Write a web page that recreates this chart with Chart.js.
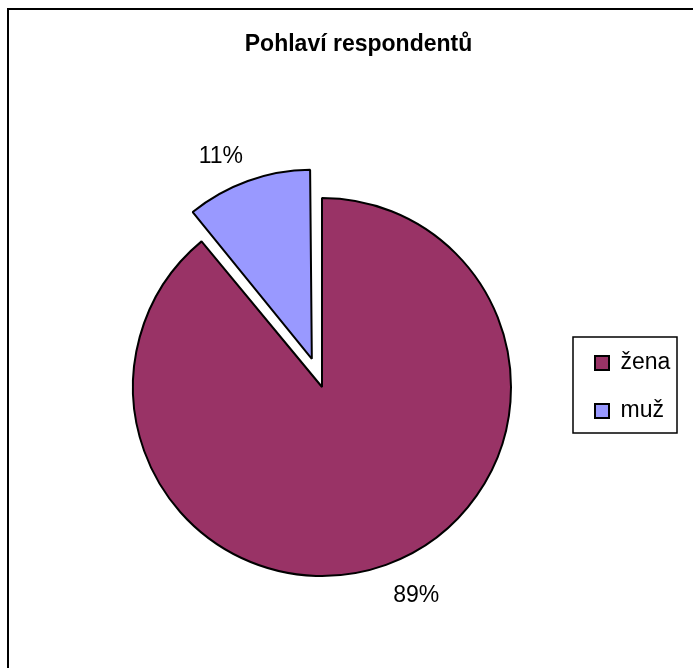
<!DOCTYPE html>
<html>
<head>
<meta charset="utf-8">
<title>Pohlaví respondentů</title>
<script src="https://cdn.jsdelivr.net/npm/chart.js@4.4.1/dist/chart.umd.min.js"></script>
<style>
  html, body { margin: 0; padding: 0; background: #fff; }
  canvas { display: block; }
</style>
</head>
<body>
<canvas id="genderChart" width="693" height="668"></canvas>
<script>
// data
const categories = ['žena', 'muž'];
const shares = [89, 11];
const sliceColors = ['#993366', '#9999FF'];

const PIE_RADIUS = 189;
const FONT = "'Liberation Sans', Arial, sans-serif";

// white page + the frame around the whole chart (cut off at right/bottom)
const frame = {
  id: 'frame',
  beforeDraw(chart) {
    const ctx = chart.ctx;
    ctx.save();
    ctx.fillStyle = '#fff';
    ctx.fillRect(0, 0, chart.width, chart.height);
    ctx.strokeStyle = '#000';
    ctx.lineWidth = 2;
    ctx.strokeRect(8, 9, chart.width + 20, chart.height + 20);
    ctx.restore();
  }
};

// chart.js grows an exploded slice's radius, pull it back so both slices match
const keepRadius = {
  id: 'keepRadius',
  afterDatasetUpdate(chart, args) {
    args.meta.data.forEach(arc => {
      const off = (arc.options.offset || 0) / 4;
      const fix = 1 - Math.sin(Math.min(Math.PI, arc.circumference));
      arc.outerRadius = PIE_RADIUS - off * fix;
    });
  }
};

// legend is laid out narrow (keeps the title centred like the original),
// so widen its clip box afterwards or the labels get cut
const legendRoom = {
  id: 'legendRoom',
  afterLayout(chart) {
    const lg = chart.legend;
    lg.right = chart.width;
    lg.width = lg.right - lg.left;
  }
};

// percent labels outside the slices
const outsideLabels = {
  id: 'outsideLabels',
  afterDatasetsDraw(chart) {
    const ctx = chart.ctx;
    const meta = chart.getDatasetMeta(0);
    ctx.save();
    ctx.font = '23px ' + FONT;
    ctx.fillStyle = '#000';
    meta.data.forEach((arc, i) => {
      const p = arc.getProps(['x', 'y', 'startAngle', 'endAngle'], true);
      const mid = (p.startAngle + p.endAngle) / 2;
      const off = (arc.options.offset || 0) / 4;
      const dx = Math.cos(mid), dy = Math.sin(mid);
      const d = off + PIE_RADIUS + (dy >= 0 ? 21 : 14);
      ctx.textAlign = dx >= 0 ? 'left' : 'right';
      ctx.textBaseline = dy >= 0 ? 'top' : 'bottom';
      ctx.fillText(shares[i] + '%', p.x + dx * d, p.y + dy * d);
    });
    ctx.restore();
  }
};

// box around the legend
const legendFrame = {
  id: 'legendFrame',
  afterDraw(chart) {
    const hb = chart.legend.legendHitBoxes;
    if (!hb || !hb.length) return;
    const first = hb[0], last = hb[hb.length - 1];
    const ctx = chart.ctx;
    ctx.save();
    ctx.strokeStyle = '#000';
    ctx.lineWidth = 1.5;
    const x0 = first.left - 22, y0 = first.top - 14.5;
    ctx.strokeRect(x0, y0, 104, last.top + last.height + 10.5 - y0);
    ctx.restore();
  }
};

new Chart(document.getElementById('genderChart'), {
  type: 'pie',
  data: {
    labels: categories,
    datasets: [{
      data: shares,
      backgroundColor: sliceColors,
      borderColor: '#000',
      borderWidth: 2,
      offset: [0, 120],
      clip: false
    }]
  },
  options: {
    responsive: false,
    animation: false,
    radius: PIE_RADIUS,
    layout: { padding: { top: 20, left: 74, right: 50, bottom: 0 } },
    plugins: {
      title: {
        display: true,
        text: 'Pohlaví respondentů',
        color: '#000',
        font: { family: FONT, size: 23, weight: 'bold' },
        padding: { top: 11, bottom: 47.4 }
      },
      legend: {
        position: 'right',
        fullSize: false,
        maxWidth: 73,
        labels: {
          color: '#000',
          font: { family: FONT, size: 23 },
          boxWidth: 14,
          boxHeight: 14,
          padding: 25
        }
      },
      tooltip: { enabled: false }
    }
  },
  plugins: [frame, keepRadius, legendRoom, outsideLabels, legendFrame]
});
</script>
</body>
</html>
